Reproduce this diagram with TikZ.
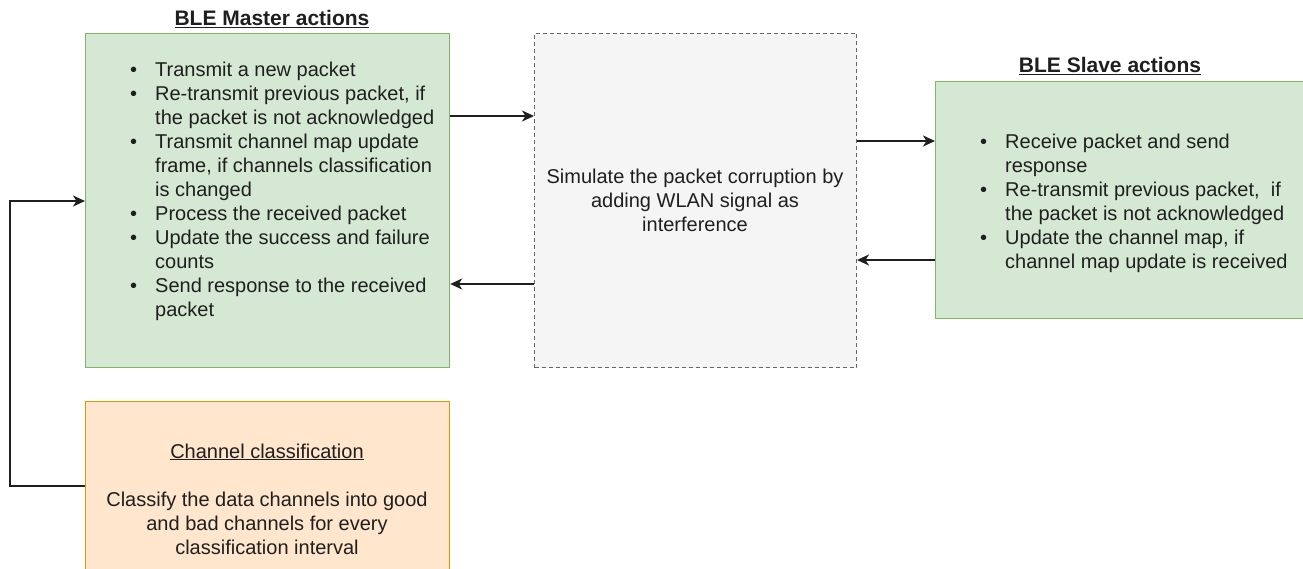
\documentclass[tikz,border=0pt]{standalone}
\usepackage{fontspec}
\setmainfont{Liberation Sans}
\usetikzlibrary{arrows.meta}
\definecolor{gfill}{HTML}{D5E8D4}
\definecolor{gline}{HTML}{82B366}
\definecolor{ofill}{HTML}{FFE6CC}
\definecolor{oline}{HTML}{D79B00}
\definecolor{sfill}{HTML}{F5F5F5}
\definecolor{sline}{HTML}{666666}
\definecolor{txt}{HTML}{1F1F1F}
\newcommand\bodyfs{\fontsize{20}{24}\selectfont}
\begin{document}
\begin{tikzpicture}[x=1pt,y=-1pt,
  box/.style={draw, line width=1.2pt, anchor=north west, inner sep=0pt},
  arr/.style={-{Stealth[length=12pt,width=11pt,inset=3.5pt]}, line width=1.8pt, draw=txt},
  txtnode/.style={inner sep=0pt, text=txt, font=\bodyfs},
  titlenode/.style={inner sep=0pt, text=txt, font=\fontsize{21}{24}\selectfont\bfseries, anchor=base}]
\clip (0,0) rectangle (1303,569);
\fill[white] (0,0) rectangle (1303,569);
% boxes
\node[box, fill=gfill, draw=gline, minimum width=364pt, minimum height=334pt] (m) at (85,33) {};
\node[box, fill=sfill, draw=sline, line width=1pt, dash pattern=on 4pt off 3pt, minimum width=322pt, minimum height=334pt] (s) at (534,33) {};
\node[box, fill=gfill, draw=gline, minimum width=375pt, minimum height=237pt] (v) at (935,81) {};
\node[box, fill=ofill, draw=oline, minimum width=364pt, minimum height=190pt] (c) at (85,401) {};
% titles
\node[titlenode] (mt) at (272,25.5) {\underline{BLE Master actions}};
\node[titlenode] (vt) at (1110,72.5) {\underline{BLE Slave actions}};
% master list
\node[txtnode, anchor=north west] (ml) at (130,60) {\begin{tabular}{@{}p{25pt}@{}l@{}}
\textbullet & Transmit a new packet\\
\textbullet & Re-transmit previous packet, if\\
 & the packet is not acknowledged\\
\textbullet & Transmit channel map update\\
 & frame, if channels classification\\
 & is changed\\
\textbullet & Process the received packet\\
\textbullet & Update the success and failure\\
 & counts\\
\textbullet & Send response to the received\\
 & packet
\end{tabular}};
% middle text
\node[txtnode, anchor=north] (st) at (695,167) {\begin{tabular}{@{}c@{}}
Simulate the packet corruption by\\
adding WLAN signal as\\
interference
\end{tabular}};
% slave list
\node[txtnode, anchor=north west] (vl) at (980,132) {\begin{tabular}{@{}p{25pt}@{}l@{}}
\textbullet & Receive packet and send\\
 & response\\
\textbullet & Re-transmit previous packet, \ if\\
 & the packet is not acknowledged\\
\textbullet & Update the channel map, if\\
 & channel map update is received
\end{tabular}};
% classification text
\node[txtnode, anchor=north] (ct) at (267,441) {\begin{tabular}{@{}c@{}}
\underline{Channel classification}\\
\\
Classify the data channels into good\\
and bad channels for every\\
classification interval
\end{tabular}};
% connectors
\draw[arr] (m.east |- 0,116) -- (s.west |- 0,116);
\draw[arr] (s.west |- 0,284) -- (m.east |- 0,284);
\draw[arr] (s.east |- 0,141) -- (v.west |- 0,141);
\draw[arr] (v.west |- 0,260) -- (s.east |- 0,260);
\coordinate (k1) at (10,486);
\coordinate (k2) at (10,201);
\draw[arr] (c.west |- k1) -- (k1) -- (k2) -- (m.west |- k2);
\end{tikzpicture}
\end{document}
